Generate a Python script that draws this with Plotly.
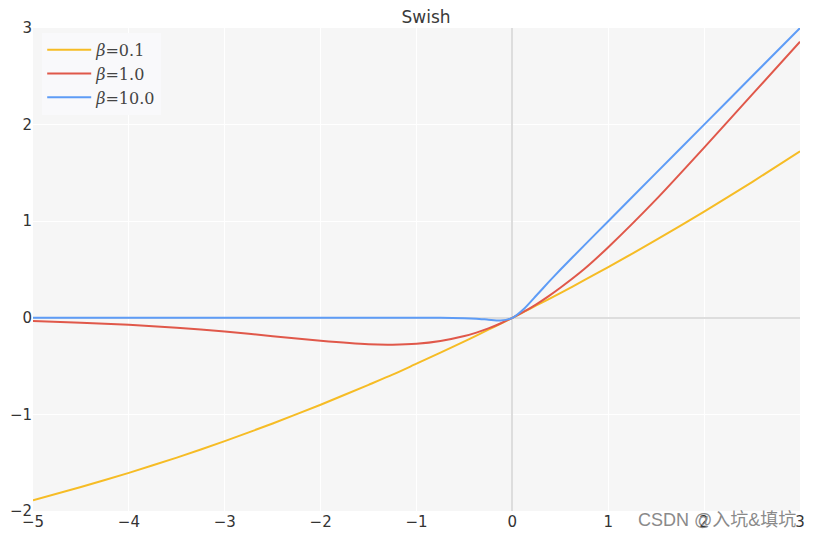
import plotly.graph_objects as go

x_vals = [-5, -4.5, -4, -3.5, -3, -2.5, -2, -1.5, -1.25, -1, -0.75, -0.5, -0.375, -0.25, -0.125, 0,
          0.125, 0.25, 0.375, 0.5, 0.75, 1, 1.5, 2, 2.5, 3]
y_beta01 = [-1.888, -1.752, -1.605, -1.447, -1.277, -1.094, -0.900, -0.694, -0.589, -0.475, -0.361, -0.244,
            -0.184, -0.123, -0.062, 0.0, 0.063, 0.128, 0.191, 0.256, 0.389, 0.525, 0.806, 1.100, 1.405, 1.723]
y_beta1 = [-0.033, -0.050, -0.072, -0.103, -0.142, -0.190, -0.238, -0.274, -0.278, -0.269, -0.240, -0.189,
           -0.153, -0.110, -0.059, 0.0, 0.066, 0.140, 0.222, 0.311, 0.505, 0.731, 1.226, 1.762, 2.310, 2.858]
y_beta10 = [0.0, 0.0, 0.0, 0.0, 0.0, 0.0, 0.0, -0.0005, -0.0005, -0.0005, -0.0004, -0.0034,
            -0.0088, -0.019, -0.028, 0.0, 0.097, 0.231, 0.366, 0.497, 0.750, 1.000, 1.500, 2.000, 2.500, 3.000]

labels = ["<i>β</i>=0.1", "<i>β</i>=1.0", "<i>β</i>=10.0"]
colors = ["#f6bc25", "#e0584a", "#5e9cf6"]
series = [y_beta01, y_beta1, y_beta10]

x_ticks = [-5, -4, -3, -2, -1, 0, 1, 2, 3]
y_ticks = [-2, -1, 0, 1, 2, 3]

fig = go.Figure()
for lab, col, ys in zip(labels, colors, series):
    fig.add_trace(go.Scatter(x=x_vals, y=ys, mode="lines", name=lab,
                             line=dict(color=col, width=2, shape="spline", smoothing=0.6)))

fig.update_layout(
    width=805, height=532,
    margin=dict(l=25, r=13, t=20, b=29),
    paper_bgcolor="white",
    plot_bgcolor="#f6f6f6",
    font=dict(family="DejaVu Sans", size=15, color="#333333"),
    title=dict(text="Swish", x=0.5125, xanchor="center", xref="paper",
               y=1 - 9 / 532, yanchor="middle", yref="container",
               font=dict(size=17, color="#3a3a3a")),
    showlegend=True,
    legend=dict(x=0.012, y=0.99, xanchor="left", yanchor="top",
                bgcolor="#f9f9fb", borderwidth=0,
                font=dict(family="DejaVu Serif", size=16, color="#444444"),
                itemwidth=44, tracegroupgap=3),
)
fig.update_xaxes(range=[-5, 3], tickvals=x_ticks, ticktext=[str(t).replace("-", "−") for t in x_ticks],
                 automargin=False,
                 showgrid=True, gridcolor="white", gridwidth=1,
                 zeroline=True, zerolinecolor="#dddddd", zerolinewidth=2,
                 showline=False, ticks="", tickfont=dict(size=15, color="#333333"))
fig.update_yaxes(range=[-2, 3], tickvals=y_ticks, ticktext=[str(t).replace("-", "−") for t in y_ticks],
                 automargin=False,
                 showgrid=True, gridcolor="white", gridwidth=1,
                 zeroline=True, zerolinecolor="#dddddd", zerolinewidth=2,
                 showline=False, ticks="", tickfont=dict(size=15, color="#333333"))

fig.add_annotation(text="CSDN @入坑&填坑", xref="paper", yref="paper", x=0.997, y=-0.0186,
                   xanchor="right", yanchor="middle", showarrow=False,
                   font=dict(family="Liberation Sans, Noto Sans CJK SC", size=18, color="#8a8a8a"))

fig.write_html("out.html")
